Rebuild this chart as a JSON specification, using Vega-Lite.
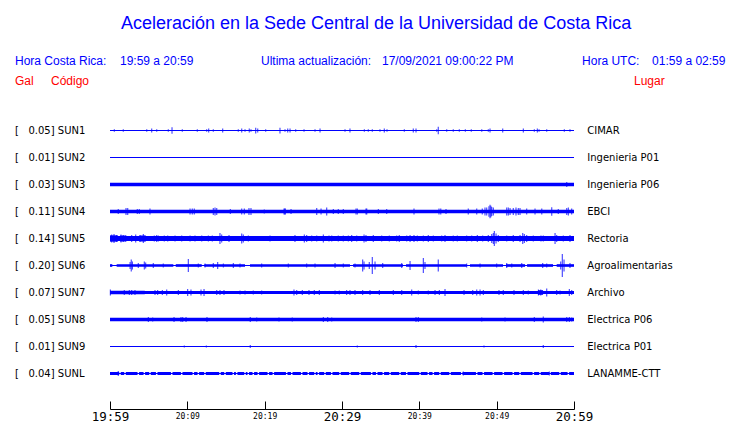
{
 "$schema": "https://vega.github.io/schema/vega-lite/v6.json",
 "width": 464, "height": 270,
 "autosize": {"type": "none"},
 "padding": {"left": 110, "top": 117, "right": 166, "bottom": 36},
 "background": "white",
 "config": {"view": {"stroke": null}, "axis": {"grid": false}, "axisY": {"disable": true}},
 "datasets": {
  "channels": [
   {"n": 1, "ch": "SUN1", "gain": 0.05, "place": "CIMAR"},
   {"n": 2, "ch": "SUN2", "gain": 0.01, "place": "Ingenieria P01"},
   {"n": 3, "ch": "SUN3", "gain": 0.03, "place": "Ingenieria P06"},
   {"n": 4, "ch": "SUN4", "gain": 0.11, "place": "EBCI"},
   {"n": 5, "ch": "SUN5", "gain": 0.14, "place": "Rectoria"},
   {"n": 6, "ch": "SUN6", "gain": 0.20, "place": "Agroalimentarias"},
   {"n": 7, "ch": "SUN7", "gain": 0.07, "place": "Archivo"},
   {"n": 8, "ch": "SUN8", "gain": 0.05, "place": "Electrica P06"},
   {"n": 9, "ch": "SUN9", "gain": 0.01, "place": "Electrica P01"},
   {"n": 10, "ch": "SUNL", "gain": 0.04, "place": "LANAMME-CTT"}
  ],
  "segments": [
   {"n": 1, "t0": 0, "t1": 60, "pk": 0.009},
   {"n": 2, "t0": 0, "t1": 60, "pk": 0.009},
   {"n": 3, "t0": 0, "t1": 60, "pk": 0.032},
   {"n": 4, "t0": 0, "t1": 60, "pk": 0.029},
   {"n": 5, "t0": 0, "t1": 60, "pk": 0.044},
   {"n": 5, "t0": 0, "t1": 1.0, "pk": 0.055},
   {"n": 5, "t0": 1.3, "t1": 2.1, "pk": 0.052},
   {"n": 5, "t0": 3.8, "t1": 4.6, "pk": 0.052},
   {"n": 6, "t0": 0, "t1": 60, "pk": 0.009},
   {"n": 6, "t0": 0, "t1": 0.3, "pk": 0.023},
   {"n": 6, "t0": 0.86, "t1": 8.19, "pk": 0.023},
   {"n": 6, "t0": 8.5, "t1": 11.86, "pk": 0.023},
   {"n": 6, "t0": 12.2, "t1": 17.46, "pk": 0.023},
   {"n": 6, "t0": 18.1, "t1": 31.03, "pk": 0.023},
   {"n": 6, "t0": 31.42, "t1": 37.89, "pk": 0.023},
   {"n": 6, "t0": 38.28, "t1": 46.12, "pk": 0.023},
   {"n": 6, "t0": 46.55, "t1": 50.82, "pk": 0.023},
   {"n": 6, "t0": 51.21, "t1": 53.67, "pk": 0.023},
   {"n": 6, "t0": 53.93, "t1": 57.29, "pk": 0.023},
   {"n": 6, "t0": 57.76, "t1": 60, "pk": 0.023},
   {"n": 7, "t0": 0, "t1": 60, "pk": 0.026},
   {"n": 7, "t0": 0, "t1": 4.5, "pk": 0.032},
   {"n": 7, "t0": 55.35, "t1": 56.0, "pk": 0.04},
   {"n": 8, "t0": 0, "t1": 60, "pk": 0.029},
   {"n": 9, "t0": 0, "t1": 60, "pk": 0.01},
   {"n": 10, "t0": 0, "t1": 60, "pk": 0.009},
   {"n": 10, "t0": 0, "t1": 1.19, "pk": 0.026},
   {"n": 10, "t0": 1.39, "t1": 1.84, "pk": 0.026},
   {"n": 10, "t0": 2.04, "t1": 3.56, "pk": 0.026},
   {"n": 10, "t0": 3.76, "t1": 4.34, "pk": 0.026},
   {"n": 10, "t0": 4.54, "t1": 5.07, "pk": 0.026},
   {"n": 10, "t0": 5.27, "t1": 5.94, "pk": 0.026},
   {"n": 10, "t0": 6.14, "t1": 7.88, "pk": 0.026},
   {"n": 10, "t0": 8.08, "t1": 9.17, "pk": 0.026},
   {"n": 10, "t0": 9.37, "t1": 10.67, "pk": 0.026},
   {"n": 10, "t0": 10.87, "t1": 11.32, "pk": 0.026},
   {"n": 10, "t0": 11.52, "t1": 12.18, "pk": 0.026},
   {"n": 10, "t0": 12.38, "t1": 14.12, "pk": 0.026},
   {"n": 10, "t0": 14.32, "t1": 14.77, "pk": 0.026},
   {"n": 10, "t0": 14.97, "t1": 15.84, "pk": 0.026},
   {"n": 10, "t0": 16.04, "t1": 16.28, "pk": 0.026},
   {"n": 10, "t0": 16.48, "t1": 17.36, "pk": 0.026},
   {"n": 10, "t0": 17.56, "t1": 17.78, "pk": 0.026},
   {"n": 10, "t0": 17.98, "t1": 18.43, "pk": 0.026},
   {"n": 10, "t0": 18.63, "t1": 19.08, "pk": 0.026},
   {"n": 10, "t0": 19.28, "t1": 20.37, "pk": 0.026},
   {"n": 10, "t0": 20.57, "t1": 21.02, "pk": 0.026},
   {"n": 10, "t0": 21.22, "t1": 22.75, "pk": 0.026},
   {"n": 10, "t0": 22.95, "t1": 23.4, "pk": 0.026},
   {"n": 10, "t0": 23.6, "t1": 24.69, "pk": 0.026},
   {"n": 10, "t0": 24.89, "t1": 25.54, "pk": 0.026},
   {"n": 10, "t0": 25.74, "t1": 26.41, "pk": 0.026},
   {"n": 10, "t0": 26.61, "t1": 26.84, "pk": 0.026},
   {"n": 10, "t0": 27.04, "t1": 27.7, "pk": 0.026},
   {"n": 10, "t0": 27.9, "t1": 28.57, "pk": 0.026},
   {"n": 10, "t0": 28.77, "t1": 29.64, "pk": 0.026},
   {"n": 10, "t0": 29.84, "t1": 30.93, "pk": 0.026},
   {"n": 10, "t0": 31.13, "t1": 32.23, "pk": 0.026},
   {"n": 10, "t0": 32.43, "t1": 33.74, "pk": 0.026},
   {"n": 10, "t0": 33.94, "t1": 34.39, "pk": 0.026},
   {"n": 10, "t0": 34.59, "t1": 35.24, "pk": 0.026},
   {"n": 10, "t0": 35.44, "t1": 36.11, "pk": 0.026},
   {"n": 10, "t0": 36.31, "t1": 37.4, "pk": 0.026},
   {"n": 10, "t0": 37.6, "t1": 38.27, "pk": 0.026},
   {"n": 10, "t0": 38.47, "t1": 39.99, "pk": 0.026},
   {"n": 10, "t0": 40.19, "t1": 41.06, "pk": 0.026},
   {"n": 10, "t0": 41.26, "t1": 41.71, "pk": 0.026},
   {"n": 10, "t0": 41.91, "t1": 42.57, "pk": 0.026},
   {"n": 10, "t0": 42.77, "t1": 43.87, "pk": 0.026},
   {"n": 10, "t0": 44.07, "t1": 45.38, "pk": 0.026},
   {"n": 10, "t0": 45.58, "t1": 47.32, "pk": 0.026},
   {"n": 10, "t0": 47.52, "t1": 48.17, "pk": 0.026},
   {"n": 10, "t0": 48.37, "t1": 49.47, "pk": 0.026},
   {"n": 10, "t0": 49.67, "t1": 50.76, "pk": 0.026},
   {"n": 10, "t0": 50.96, "t1": 52.05, "pk": 0.026},
   {"n": 10, "t0": 52.25, "t1": 52.92, "pk": 0.026},
   {"n": 10, "t0": 53.12, "t1": 54.64, "pk": 0.026},
   {"n": 10, "t0": 54.84, "t1": 55.5, "pk": 0.026},
   {"n": 10, "t0": 55.7, "t1": 56.8, "pk": 0.026},
   {"n": 10, "t0": 57.0, "t1": 58.09, "pk": 0.026},
   {"n": 10, "t0": 58.29, "t1": 59.17, "pk": 0.026},
   {"n": 10, "t0": 59.37, "t1": 60, "pk": 0.026}
  ],
  "spikes": [
   {"n": 1, "t": 0.56, "pk": 0.022}, {"n": 1, "t": 1.72, "pk": 0.022}, {"n": 1, "t": 4.75, "pk": 0.022},
   {"n": 1, "t": 5.39, "pk": 0.035}, {"n": 1, "t": 6.04, "pk": 0.022}, {"n": 1, "t": 7.54, "pk": 0.022},
   {"n": 1, "t": 8.02, "pk": 0.058}, {"n": 1, "t": 9.35, "pk": 0.022}, {"n": 1, "t": 11.29, "pk": 0.022},
   {"n": 1, "t": 12.5, "pk": 0.022}, {"n": 1, "t": 12.76, "pk": 0.035}, {"n": 1, "t": 13.36, "pk": 0.022},
   {"n": 1, "t": 14.57, "pk": 0.035}, {"n": 1, "t": 16.59, "pk": 0.022}, {"n": 1, "t": 17.03, "pk": 0.035},
   {"n": 1, "t": 17.46, "pk": 0.022}, {"n": 1, "t": 18.01, "pk": 0.035}, {"n": 1, "t": 18.23, "pk": 0.022},
   {"n": 1, "t": 18.84, "pk": 0.05}, {"n": 1, "t": 19.1, "pk": 0.035}, {"n": 1, "t": 20.13, "pk": 0.022},
   {"n": 1, "t": 21.98, "pk": 0.05}, {"n": 1, "t": 22.63, "pk": 0.022}, {"n": 1, "t": 22.98, "pk": 0.035},
   {"n": 1, "t": 23.28, "pk": 0.035}, {"n": 1, "t": 24.01, "pk": 0.022}, {"n": 1, "t": 25.09, "pk": 0.022},
   {"n": 1, "t": 26.51, "pk": 0.022}, {"n": 1, "t": 27.16, "pk": 0.035}, {"n": 1, "t": 30.39, "pk": 0.022},
   {"n": 1, "t": 31.03, "pk": 0.035}, {"n": 1, "t": 32.89, "pk": 0.022}, {"n": 1, "t": 33.4, "pk": 0.022},
   {"n": 1, "t": 33.92, "pk": 0.022}, {"n": 1, "t": 34.91, "pk": 0.022}, {"n": 1, "t": 35.47, "pk": 0.035},
   {"n": 1, "t": 35.82, "pk": 0.022}, {"n": 1, "t": 38.06, "pk": 0.022}, {"n": 1, "t": 39.22, "pk": 0.035},
   {"n": 1, "t": 39.57, "pk": 0.035}, {"n": 1, "t": 42.25, "pk": 0.022}, {"n": 1, "t": 42.45, "pk": 0.064},
   {"n": 1, "t": 43.54, "pk": 0.022}, {"n": 1, "t": 44.39, "pk": 0.022}, {"n": 1, "t": 45.17, "pk": 0.022},
   {"n": 1, "t": 45.95, "pk": 0.022}, {"n": 1, "t": 46.72, "pk": 0.022}, {"n": 1, "t": 48.07, "pk": 0.022},
   {"n": 1, "t": 48.92, "pk": 0.022}, {"n": 1, "t": 49.14, "pk": 0.035}, {"n": 1, "t": 50.78, "pk": 0.035},
   {"n": 1, "t": 53.45, "pk": 0.035}, {"n": 1, "t": 54.87, "pk": 0.022}, {"n": 1, "t": 55.26, "pk": 0.035},
   {"n": 1, "t": 55.48, "pk": 0.022}, {"n": 1, "t": 56.47, "pk": 0.022}, {"n": 1, "t": 58.75, "pk": 0.022},
   {"n": 1, "t": 59.48, "pk": 0.022},
   {"n": 3, "t": 59.06, "pk": 0.045},
   {"n": 4, "t": 1.07, "pk": 0.043}, {"n": 4, "t": 2.07, "pk": 0.061}, {"n": 4, "t": 2.29, "pk": 0.061},
   {"n": 4, "t": 3.53, "pk": 0.043}, {"n": 4, "t": 3.79, "pk": 0.043}, {"n": 4, "t": 5.17, "pk": 0.052},
   {"n": 4, "t": 10.35, "pk": 0.052}, {"n": 4, "t": 10.64, "pk": 0.052}, {"n": 4, "t": 10.9, "pk": 0.052},
   {"n": 4, "t": 13.36, "pk": 0.061}, {"n": 4, "t": 13.58, "pk": 0.07}, {"n": 4, "t": 13.8, "pk": 0.061},
   {"n": 4, "t": 15.56, "pk": 0.043}, {"n": 4, "t": 17.03, "pk": 0.052}, {"n": 4, "t": 17.37, "pk": 0.052},
   {"n": 4, "t": 17.97, "pk": 0.061}, {"n": 4, "t": 18.23, "pk": 0.061}, {"n": 4, "t": 19.95, "pk": 0.035},
   {"n": 4, "t": 22.5, "pk": 0.052}, {"n": 4, "t": 22.6, "pk": 0.052}, {"n": 4, "t": 22.67, "pk": 0.052},
   {"n": 4, "t": 23.41, "pk": 0.043}, {"n": 4, "t": 26.73, "pk": 0.061}, {"n": 4, "t": 27.29, "pk": 0.052},
   {"n": 4, "t": 28.02, "pk": 0.07}, {"n": 4, "t": 28.88, "pk": 0.043}, {"n": 4, "t": 29.52, "pk": 0.043},
   {"n": 4, "t": 30.17, "pk": 0.043}, {"n": 4, "t": 31.81, "pk": 0.052}, {"n": 4, "t": 31.98, "pk": 0.052},
   {"n": 4, "t": 33.1, "pk": 0.052}, {"n": 4, "t": 33.2, "pk": 0.052}, {"n": 4, "t": 34.7, "pk": 0.043},
   {"n": 4, "t": 35.78, "pk": 0.043}, {"n": 4, "t": 39.31, "pk": 0.052}, {"n": 4, "t": 42.54, "pk": 0.052},
   {"n": 4, "t": 42.77, "pk": 0.052}, {"n": 4, "t": 43.45, "pk": 0.043}, {"n": 4, "t": 46.33, "pk": 0.052},
   {"n": 4, "t": 47.42, "pk": 0.052}, {"n": 4, "t": 48.14, "pk": 0.052}, {"n": 4, "t": 48.49, "pk": 0.07},
   {"n": 4, "t": 48.71, "pk": 0.07}, {"n": 4, "t": 49.0, "pk": 0.09}, {"n": 4, "t": 49.14, "pk": 0.116},
   {"n": 4, "t": 49.25, "pk": 0.1}, {"n": 4, "t": 49.36, "pk": 0.08}, {"n": 4, "t": 49.57, "pk": 0.07},
   {"n": 4, "t": 51.3, "pk": 0.07}, {"n": 4, "t": 51.51, "pk": 0.07}, {"n": 4, "t": 51.73, "pk": 0.061},
   {"n": 4, "t": 52.15, "pk": 0.061}, {"n": 4, "t": 52.5, "pk": 0.07}, {"n": 4, "t": 52.8, "pk": 0.061},
   {"n": 4, "t": 53.02, "pk": 0.061}, {"n": 4, "t": 53.88, "pk": 0.052}, {"n": 4, "t": 54.96, "pk": 0.052},
   {"n": 4, "t": 55.83, "pk": 0.052}, {"n": 4, "t": 57.12, "pk": 0.075}, {"n": 4, "t": 57.97, "pk": 0.043},
   {"n": 4, "t": 59.06, "pk": 0.061}, {"n": 4, "t": 59.27, "pk": 0.07}, {"n": 4, "t": 59.7, "pk": 0.052},
   {"n": 5, "t": 0.22, "pk": 0.07}, {"n": 5, "t": 0.52, "pk": 0.078}, {"n": 5, "t": 0.86, "pk": 0.061},
   {"n": 5, "t": 1.42, "pk": 0.07}, {"n": 5, "t": 1.72, "pk": 0.061}, {"n": 5, "t": 2.03, "pk": 0.052},
   {"n": 5, "t": 2.8, "pk": 0.061}, {"n": 5, "t": 3.32, "pk": 0.07}, {"n": 5, "t": 3.88, "pk": 0.061},
   {"n": 5, "t": 4.31, "pk": 0.078}, {"n": 5, "t": 4.53, "pk": 0.052}, {"n": 5, "t": 5.73, "pk": 0.052},
   {"n": 5, "t": 6.04, "pk": 0.061}, {"n": 5, "t": 6.25, "pk": 0.052}, {"n": 5, "t": 7.02, "pk": 0.052},
   {"n": 5, "t": 7.46, "pk": 0.052}, {"n": 5, "t": 8.41, "pk": 0.052}, {"n": 5, "t": 9.27, "pk": 0.052},
   {"n": 5, "t": 10.35, "pk": 0.052}, {"n": 5, "t": 10.99, "pk": 0.052}, {"n": 5, "t": 11.86, "pk": 0.052},
   {"n": 5, "t": 12.72, "pk": 0.052}, {"n": 5, "t": 13.23, "pk": 0.052}, {"n": 5, "t": 14.22, "pk": 0.096},
   {"n": 5, "t": 14.44, "pk": 0.07}, {"n": 5, "t": 15.39, "pk": 0.061}, {"n": 5, "t": 17.03, "pk": 0.087},
   {"n": 5, "t": 17.24, "pk": 0.07}, {"n": 5, "t": 17.89, "pk": 0.052}, {"n": 5, "t": 19.4, "pk": 0.043},
   {"n": 5, "t": 20.69, "pk": 0.052}, {"n": 5, "t": 21.77, "pk": 0.043}, {"n": 5, "t": 23.92, "pk": 0.061},
   {"n": 5, "t": 25.13, "pk": 0.07}, {"n": 5, "t": 25.43, "pk": 0.061}, {"n": 5, "t": 26.08, "pk": 0.052},
   {"n": 5, "t": 26.73, "pk": 0.052}, {"n": 5, "t": 27.59, "pk": 0.07}, {"n": 5, "t": 28.32, "pk": 0.052},
   {"n": 5, "t": 28.67, "pk": 0.052}, {"n": 5, "t": 29.52, "pk": 0.052}, {"n": 5, "t": 30.17, "pk": 0.052},
   {"n": 5, "t": 30.82, "pk": 0.052}, {"n": 5, "t": 31.25, "pk": 0.061}, {"n": 5, "t": 31.9, "pk": 0.052},
   {"n": 5, "t": 32.85, "pk": 0.07}, {"n": 5, "t": 33.1, "pk": 0.061}, {"n": 5, "t": 34.05, "pk": 0.061},
   {"n": 5, "t": 35.13, "pk": 0.052}, {"n": 5, "t": 36.12, "pk": 0.052}, {"n": 5, "t": 37.07, "pk": 0.052},
   {"n": 5, "t": 37.41, "pk": 0.061}, {"n": 5, "t": 38.37, "pk": 0.052}, {"n": 5, "t": 38.8, "pk": 0.061},
   {"n": 5, "t": 39.31, "pk": 0.061}, {"n": 5, "t": 39.74, "pk": 0.052}, {"n": 5, "t": 40.52, "pk": 0.052},
   {"n": 5, "t": 41.16, "pk": 0.061}, {"n": 5, "t": 41.81, "pk": 0.052}, {"n": 5, "t": 42.89, "pk": 0.052},
   {"n": 5, "t": 43.32, "pk": 0.061}, {"n": 5, "t": 44.39, "pk": 0.052}, {"n": 5, "t": 44.91, "pk": 0.052},
   {"n": 5, "t": 46.12, "pk": 0.052}, {"n": 5, "t": 46.77, "pk": 0.052}, {"n": 5, "t": 47.5, "pk": 0.061},
   {"n": 5, "t": 48.19, "pk": 0.052}, {"n": 5, "t": 48.92, "pk": 0.061}, {"n": 5, "t": 49.36, "pk": 0.078},
   {"n": 5, "t": 49.57, "pk": 0.096}, {"n": 5, "t": 49.7, "pk": 0.13}, {"n": 5, "t": 49.92, "pk": 0.087},
   {"n": 5, "t": 50.21, "pk": 0.061}, {"n": 5, "t": 51.3, "pk": 0.052}, {"n": 5, "t": 52.15, "pk": 0.061},
   {"n": 5, "t": 53.02, "pk": 0.061}, {"n": 5, "t": 53.37, "pk": 0.096}, {"n": 5, "t": 53.58, "pk": 0.078},
   {"n": 5, "t": 53.88, "pk": 0.061}, {"n": 5, "t": 54.74, "pk": 0.052}, {"n": 5, "t": 55.73, "pk": 0.052},
   {"n": 5, "t": 56.03, "pk": 0.052}, {"n": 5, "t": 57.55, "pk": 0.096}, {"n": 5, "t": 57.76, "pk": 0.061},
   {"n": 5, "t": 58.62, "pk": 0.052}, {"n": 5, "t": 59.48, "pk": 0.061},
   {"n": 6, "t": 2.6, "pk": 0.061}, {"n": 6, "t": 2.75, "pk": 0.104}, {"n": 6, "t": 2.9, "pk": 0.07},
   {"n": 6, "t": 3.66, "pk": 0.043}, {"n": 6, "t": 4.44, "pk": 0.07}, {"n": 6, "t": 4.61, "pk": 0.052},
   {"n": 6, "t": 5.6, "pk": 0.043}, {"n": 6, "t": 6.89, "pk": 0.035}, {"n": 6, "t": 10.13, "pk": 0.113},
   {"n": 6, "t": 11.42, "pk": 0.035}, {"n": 6, "t": 12.29, "pk": 0.035}, {"n": 6, "t": 13.36, "pk": 0.043},
   {"n": 6, "t": 13.92, "pk": 0.061}, {"n": 6, "t": 14.66, "pk": 0.035}, {"n": 6, "t": 15.95, "pk": 0.043},
   {"n": 6, "t": 16.81, "pk": 0.035}, {"n": 6, "t": 19.61, "pk": 0.035}, {"n": 6, "t": 23.06, "pk": 0.035},
   {"n": 6, "t": 25.43, "pk": 0.035}, {"n": 6, "t": 26.51, "pk": 0.035}, {"n": 6, "t": 29.1, "pk": 0.043},
   {"n": 6, "t": 30.17, "pk": 0.035}, {"n": 6, "t": 31.68, "pk": 0.035}, {"n": 6, "t": 32.67, "pk": 0.104},
   {"n": 6, "t": 32.85, "pk": 0.07}, {"n": 6, "t": 33.53, "pk": 0.061}, {"n": 6, "t": 33.92, "pk": 0.148},
   {"n": 6, "t": 34.27, "pk": 0.07}, {"n": 6, "t": 35.26, "pk": 0.043}, {"n": 6, "t": 37.72, "pk": 0.043},
   {"n": 6, "t": 38.8, "pk": 0.078}, {"n": 6, "t": 40.52, "pk": 0.13}, {"n": 6, "t": 40.73, "pk": 0.061},
   {"n": 6, "t": 42.45, "pk": 0.104}, {"n": 6, "t": 46.12, "pk": 0.035}, {"n": 6, "t": 47.85, "pk": 0.035},
   {"n": 6, "t": 50.0, "pk": 0.035}, {"n": 6, "t": 51.3, "pk": 0.043}, {"n": 6, "t": 51.95, "pk": 0.035},
   {"n": 6, "t": 53.24, "pk": 0.043}, {"n": 6, "t": 55.95, "pk": 0.043}, {"n": 6, "t": 56.47, "pk": 0.035},
   {"n": 6, "t": 58.28, "pk": 0.07}, {"n": 6, "t": 58.49, "pk": 0.2}, {"n": 6, "t": 58.71, "pk": 0.104},
   {"n": 6, "t": 59.48, "pk": 0.043},
   {"n": 7, "t": 0.05, "pk": 0.052}, {"n": 7, "t": 1.85, "pk": 0.043}, {"n": 7, "t": 2.5, "pk": 0.043},
   {"n": 7, "t": 2.8, "pk": 0.043}, {"n": 7, "t": 3.23, "pk": 0.043}, {"n": 7, "t": 5.82, "pk": 0.043},
   {"n": 7, "t": 6.16, "pk": 0.043}, {"n": 7, "t": 6.77, "pk": 0.043}, {"n": 7, "t": 7.33, "pk": 0.052},
   {"n": 7, "t": 8.84, "pk": 0.043}, {"n": 7, "t": 10.04, "pk": 0.061}, {"n": 7, "t": 10.47, "pk": 0.052},
   {"n": 7, "t": 11.77, "pk": 0.052}, {"n": 7, "t": 12.16, "pk": 0.061}, {"n": 7, "t": 13.8, "pk": 0.043},
   {"n": 7, "t": 14.22, "pk": 0.043}, {"n": 7, "t": 14.74, "pk": 0.043}, {"n": 7, "t": 16.81, "pk": 0.035},
   {"n": 7, "t": 17.46, "pk": 0.035}, {"n": 7, "t": 18.53, "pk": 0.035}, {"n": 7, "t": 19.61, "pk": 0.035},
   {"n": 7, "t": 23.79, "pk": 0.052}, {"n": 7, "t": 24.14, "pk": 0.043}, {"n": 7, "t": 24.87, "pk": 0.043},
   {"n": 7, "t": 25.73, "pk": 0.043}, {"n": 7, "t": 26.42, "pk": 0.043}, {"n": 7, "t": 27.07, "pk": 0.043},
   {"n": 7, "t": 29.1, "pk": 0.035}, {"n": 7, "t": 29.65, "pk": 0.035}, {"n": 7, "t": 30.6, "pk": 0.043},
   {"n": 7, "t": 31.03, "pk": 0.043}, {"n": 7, "t": 31.68, "pk": 0.043}, {"n": 7, "t": 32.67, "pk": 0.043},
   {"n": 7, "t": 33.62, "pk": 0.043}, {"n": 7, "t": 34.83, "pk": 0.043}, {"n": 7, "t": 36.64, "pk": 0.043},
   {"n": 7, "t": 37.72, "pk": 0.043}, {"n": 7, "t": 39.01, "pk": 0.052}, {"n": 7, "t": 39.87, "pk": 0.035},
   {"n": 7, "t": 41.16, "pk": 0.035}, {"n": 7, "t": 42.03, "pk": 0.043}, {"n": 7, "t": 42.59, "pk": 0.043},
   {"n": 7, "t": 43.32, "pk": 0.061}, {"n": 7, "t": 45.78, "pk": 0.043}, {"n": 7, "t": 46.9, "pk": 0.043},
   {"n": 7, "t": 47.42, "pk": 0.052}, {"n": 7, "t": 47.85, "pk": 0.052}, {"n": 7, "t": 48.28, "pk": 0.043},
   {"n": 7, "t": 50.3, "pk": 0.043}, {"n": 7, "t": 50.86, "pk": 0.043}, {"n": 7, "t": 52.24, "pk": 0.043},
   {"n": 7, "t": 53.45, "pk": 0.043}, {"n": 7, "t": 54.09, "pk": 0.035}, {"n": 7, "t": 55.4, "pk": 0.052},
   {"n": 7, "t": 55.7, "pk": 0.052}, {"n": 7, "t": 56.47, "pk": 0.07}, {"n": 7, "t": 57.76, "pk": 0.043},
   {"n": 7, "t": 58.19, "pk": 0.035}, {"n": 7, "t": 59.4, "pk": 0.061}, {"n": 7, "t": 59.7, "pk": 0.043},
   {"n": 8, "t": 4.96, "pk": 0.043}, {"n": 8, "t": 5.52, "pk": 0.035}, {"n": 8, "t": 8.28, "pk": 0.043},
   {"n": 8, "t": 9.18, "pk": 0.043}, {"n": 8, "t": 9.4, "pk": 0.043}, {"n": 8, "t": 9.83, "pk": 0.043},
   {"n": 8, "t": 12.54, "pk": 0.043}, {"n": 8, "t": 18.14, "pk": 0.043}, {"n": 8, "t": 18.97, "pk": 0.035},
   {"n": 8, "t": 21.85, "pk": 0.035}, {"n": 8, "t": 23.57, "pk": 0.035}, {"n": 8, "t": 27.59, "pk": 0.043},
   {"n": 8, "t": 28.15, "pk": 0.043}, {"n": 8, "t": 28.67, "pk": 0.035}, {"n": 8, "t": 39.57, "pk": 0.043},
   {"n": 8, "t": 39.87, "pk": 0.043}, {"n": 8, "t": 48.07, "pk": 0.035}, {"n": 8, "t": 51.08, "pk": 0.035},
   {"n": 8, "t": 54.87, "pk": 0.043}, {"n": 8, "t": 56.03, "pk": 0.052}, {"n": 8, "t": 59.06, "pk": 0.043},
   {"n": 8, "t": 59.4, "pk": 0.043}, {"n": 8, "t": 59.7, "pk": 0.035},
   {"n": 9, "t": 9.61, "pk": 0.017}, {"n": 9, "t": 12.46, "pk": 0.017}, {"n": 9, "t": 18.14, "pk": 0.026},
   {"n": 9, "t": 31.98, "pk": 0.017}, {"n": 9, "t": 39.57, "pk": 0.026}, {"n": 9, "t": 48.36, "pk": 0.017},
   {"n": 9, "t": 56.03, "pk": 0.026},
   {"n": 10, "t": 1.07, "pk": 0.043}, {"n": 10, "t": 45.69, "pk": 0.035}, {"n": 10, "t": 56.81, "pk": 0.035}
  ]
 },
 "layer": [
  {
   "data": {"name": "segments"},
   "mark": {"type": "rule", "color": "#0000ff"},
   "encoding": {
    "x": {"field": "t0", "type": "quantitative",
      "scale": {"domain": [0, 60], "nice": false, "zero": false},
      "axis": {
        "title": null, "grid": false, "offset": 22,
        "values": [0, 5, 10, 15, 20, 25, 30, 35, 40, 45, 50, 55, 60],
        "labelExpr": "datum.value % 10 == 0 ? ['19:59','20:09','20:19','20:29','20:39','20:49','20:59'][datum.value / 10] : ''",
        "labelFont": "DejaVu Sans Mono",
        "labelFontSize": {"condition": {"test": "datum.value % 30 == 0", "value": 12.5}, "value": 8},
        "labelColor": "black", "labelBaseline": "middle", "labelPadding": 15,
        "labelOverlap": false, "labelFlush": false, "labelBound": false,
        "tickSize": -8, "tickColor": "black", "tickWidth": 1,
        "domainColor": "black", "domainWidth": 1
      }},
    "x2": {"field": "t1"},
    "y": {"field": "n", "type": "quantitative",
      "scale": {"domain": [0.5, 10.5], "reverse": true, "nice": false, "zero": false}, "axis": null},
    "strokeWidth": {"field": "pk", "type": "quantitative",
      "scale": {"type": "linear", "domain": [0, 0.2], "range": [0, 23], "zero": true}, "legend": null}
   }
  },
  {
   "data": {"name": "spikes"},
   "mark": {"type": "tick", "orient": "vertical", "thickness": 1.2, "color": "#0000ff"},
   "encoding": {
    "x": {"field": "t", "type": "quantitative"},
    "y": {"field": "n", "type": "quantitative", "axis": null},
    "size": {"field": "pk", "type": "quantitative",
      "scale": {"type": "linear", "domain": [0, 0.2], "range": [0, 23], "zero": true}, "legend": null}
   }
  },
  {
   "data": {"name": "channels"},
   "transform": [{"calculate": "'[\u00a0\u00a0\u00a0' + format(datum.gain, '.2f') + ']\u00a0' + datum.ch", "as": "lab"}],
   "mark": {"type": "text", "font": "DejaVu Sans", "fontSize": 10, "color": "black", "align": "left", "baseline": "middle"},
   "encoding": {
    "x": {"datum": -12.285, "type": "quantitative"},
    "y": {"field": "n", "type": "quantitative", "axis": null},
    "text": {"field": "lab"}
   }
  },
  {
   "data": {"name": "channels"},
   "mark": {"type": "text", "font": "DejaVu Sans", "fontSize": 10, "color": "black", "align": "left", "baseline": "middle"},
   "encoding": {
    "x": {"datum": 61.72, "type": "quantitative"},
    "y": {"field": "n", "type": "quantitative", "axis": null},
    "text": {"field": "place"}
   }
  },
  {
   "data": {"values": [{}]},
   "mark": {"type": "text", "font": "Liberation Sans", "fontSize": 18, "color": "#0000ff", "align": "center", "baseline": "middle"},
   "encoding": {"x": {"datum": 34.4, "type": "quantitative"}, "y": {"datum": -2.96, "type": "quantitative"},
     "text": {"value": "Aceleración en la Sede Central de la Universidad de Costa Rica"}}
  },
  {
   "data": {"values": [{}]},
   "mark": {"type": "text", "font": "Liberation Sans", "fontSize": 12, "color": "#0000ff", "align": "left", "baseline": "middle"},
   "encoding": {"x": {"datum": -12.285, "type": "quantitative"}, "y": {"datum": -1.556, "type": "quantitative"},
     "text": {"value": "Hora Costa Rica:"}}
  },
  {
   "data": {"values": [{}]},
   "mark": {"type": "text", "font": "Liberation Sans", "fontSize": 12, "color": "#0000ff", "align": "left", "baseline": "middle"},
   "encoding": {"x": {"datum": 1.293, "type": "quantitative"}, "y": {"datum": -1.556, "type": "quantitative"},
     "text": {"value": "19:59 a 20:59"}}
  },
  {
   "data": {"values": [{}]},
   "mark": {"type": "text", "font": "Liberation Sans", "fontSize": 12, "color": "#0000ff", "align": "left", "baseline": "middle"},
   "encoding": {"x": {"datum": 19.53, "type": "quantitative"}, "y": {"datum": -1.556, "type": "quantitative"},
     "text": {"value": "Ultima actualización:"}}
  },
  {
   "data": {"values": [{}]},
   "mark": {"type": "text", "font": "Liberation Sans", "fontSize": 12, "color": "#0000ff", "align": "left", "baseline": "middle"},
   "encoding": {"x": {"datum": 35.17, "type": "quantitative"}, "y": {"datum": -1.556, "type": "quantitative"},
     "text": {"value": "17/09/2021 09:00:22 PM"}}
  },
  {
   "data": {"values": [{}]},
   "mark": {"type": "text", "font": "Liberation Sans", "fontSize": 12, "color": "#0000ff", "align": "left", "baseline": "middle"},
   "encoding": {"x": {"datum": 61.04, "type": "quantitative"}, "y": {"datum": -1.556, "type": "quantitative"},
     "text": {"value": "Hora UTC:"}}
  },
  {
   "data": {"values": [{}]},
   "mark": {"type": "text", "font": "Liberation Sans", "fontSize": 12, "color": "#0000ff", "align": "left", "baseline": "middle"},
   "encoding": {"x": {"datum": 70.09, "type": "quantitative"}, "y": {"datum": -1.556, "type": "quantitative"},
     "text": {"value": "01:59 a 02:59"}}
  },
  {
   "data": {"values": [{}]},
   "mark": {"type": "text", "font": "Liberation Sans", "fontSize": 12, "color": "#ff0000", "align": "left", "baseline": "middle"},
   "encoding": {"x": {"datum": -12.285, "type": "quantitative"}, "y": {"datum": -0.815, "type": "quantitative"},
     "text": {"value": "Gal"}}
  },
  {
   "data": {"values": [{}]},
   "mark": {"type": "text", "font": "Liberation Sans", "fontSize": 12, "color": "#ff0000", "align": "left", "baseline": "middle"},
   "encoding": {"x": {"datum": -7.63, "type": "quantitative"}, "y": {"datum": -0.815, "type": "quantitative"},
     "text": {"value": "Código"}}
  },
  {
   "data": {"values": [{}]},
   "mark": {"type": "text", "font": "Liberation Sans", "fontSize": 12, "color": "#ff0000", "align": "left", "baseline": "middle"},
   "encoding": {"x": {"datum": 67.76, "type": "quantitative"}, "y": {"datum": -0.815, "type": "quantitative"},
     "text": {"value": "Lugar"}}
  }
 ]
}
